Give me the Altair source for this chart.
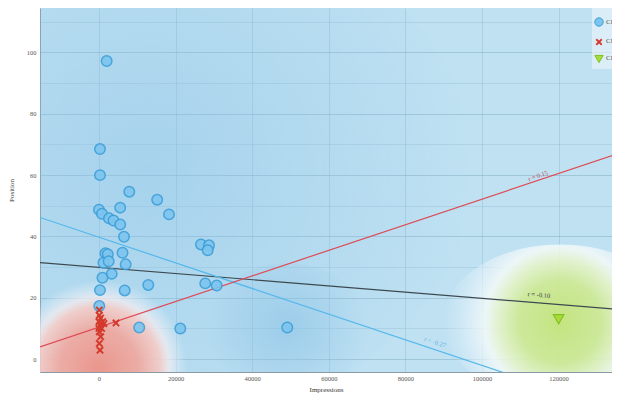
import altair as alt
import pandas as pd

# ---- data ----
c1_x = [2010, 260, 260, 7910, 15200, 0, 780, 5540, 2610, 3790, 5540, 18280, 6530,
        26630, 28720, 28380, 1700, 2300, 6140, 1170, 2530, 6970, 3320, 910, 12870,
        27750, 30730, 260, 6710, 80, 10500, 21230, 49160]
c1_y = [97.2, 68.5, 60.0, 54.6, 52.0, 48.7, 47.4, 49.4, 45.9, 45.2, 43.9, 47.2, 39.9,
        37.4, 37.1, 35.5, 34.5, 34.2, 34.7, 31.4, 31.9, 30.9, 27.8, 26.5, 24.2,
        24.7, 24.0, 22.5, 22.4, 17.3, 10.3, 10.0, 10.3]
c2_x = [80, 440, 0, 970, 260, 1300, 0, 700, 80, 440, 80, 260, 4440, 80]
c2_y = [14.3, 13.4, 12.2, 12.2, 11.1, 11.6, 10.0, 10.0, 8.9, 7.3, 5.1, 2.9, 11.8, 16.0]
c3_x = [120000]
c3_y = [13.0]

line_x = [-15400, 136000]
black_y = [31.5, 16.2]
blue_y = [46.2, -17.1]
red_y = [4.0, 67.2]

lbl_text = ["r = 0.15", "r = -0.10", "r = -0.27"]
lbl_x = [114620, 114880, 87730]
lbl_y = [59.7, 20.9, 5.5]
lbl_angle = [341, 5, 18]
lbl_color = ["#c0505a", "#3a4448", "#5ab6e6"]

legend_labels = ["Cluster 1", "Cluster 2", "Cluster 3"]

x_ticks = [0, 20000, 40000, 60000, 80000, 100000, 120000]
y_ticks = [0, 10, 20, 30, 40, 50, 60, 70, 80, 90, 100, 110]

FONT = "Liberation Serif"

xs = alt.Scale(domain=[-15400, 133940], nice=False, zero=False)
ys = alt.Scale(domain=[-4.2, 114.5], nice=False, zero=False)

xaxis = alt.Axis(values=x_ticks, format="d", title="Impressions", grid=True,
                 gridColor="#8fb6cc", gridOpacity=0.55, gridWidth=0.8,
                 ticks=False, labelPadding=3, labelFontSize=6.5, labelColor="#555",
                 labelFont=FONT, titleFont=FONT, titleFontSize=7, titleFontWeight="normal",
                 titleColor="#333", titlePadding=4, domainColor="#8a9aa4")
yaxis = alt.Axis(values=y_ticks, title="Position", grid=True,
                 gridColor={"condition": {"test": "datum.value % 20 == 0", "value": "#7fa8c0"},
                            "value": "#9cc2d6"},
                 gridOpacity=0.6, gridWidth=0.8,
                 labelExpr="datum.value % 20 == 0 ? datum.label : ''",
                 ticks=False, labelPadding=4, labelFontSize=6.5, labelColor="#555",
                 labelFont=FONT, titleFont=FONT, titleFontSize=7, titleFontWeight="normal",
                 titleColor="#333", titlePadding=12, domainColor="#8a9aa4")


def X(field="x"):
    return alt.X(f"{field}:Q", scale=xs, axis=xaxis)


def Y(field="y"):
    return alt.Y(f"{field}:Q", scale=ys, axis=yaxis)


def ellipse(ratio):
    return f"M -1 0 A 1 {ratio} 0 1 1 1 0 A 1 {ratio} 0 1 1 -1 0 Z"


def glow(cx, cy, size, ratio, stops):
    df = pd.DataFrame({"x": [cx], "y": [cy]})
    grad = {"gradient": "radial",
            "stops": [{"offset": o, "color": c} for o, c in stops]}
    return alt.Chart(df).mark_point(shape=ellipse(ratio), size=size, filled=True,
                                    fill=grad, strokeWidth=0, opacity=1,
                                    clip=True).encode(x=X(), y=Y())


glow_blue = glow(13000, 62, 420000, 0.8,
                 [(0, "rgba(135,192,230,0.45)"), (0.5, "rgba(140,195,230,0.25)"),
                  (1, "rgba(140,195,230,0)")])
glow_blue2 = glow(49160, 10.3, 26000, 0.8,
                  [(0, "rgba(140,195,230,0.6)"), (1, "rgba(140,195,230,0)")])
glow_red = glow(0, -2.9, 31000, 1.0,
                [(0, "rgba(234,150,140,1)"), (0.45, "rgba(238,170,162,0.95)"),
                 (0.7, "rgba(245,205,200,0.9)"), (0.8, "rgba(248,238,240,0.7)"),
                 (1, "rgba(235,245,252,0)")])
glow_green = glow(120370, 12.1, 55000, 0.66,
                  [(0, "rgba(196,228,128,1)"), (0.35, "rgba(205,233,150,0.95)"),
                   (0.52, "rgba(228,243,200,0.9)"), (0.64, "rgba(244,250,248,0.85)"),
                   (0.8, "rgba(235,245,251,0.5)"), (1, "rgba(220,238,248,0)")])

lines_df = pd.DataFrame({
    "x": line_x * 3,
    "y": black_y + blue_y + red_y,
    "s": ["black"] * 2 + ["blue"] * 2 + ["red"] * 2,
})
line_layers = []
for s, col in [("black", "#3c4a50"), ("blue", "#55b8ea"), ("red", "#de4b55")]:
    line_layers.append(
        alt.Chart(lines_df[lines_df.s == s]).mark_line(color=col, strokeWidth=1.2, clip=True)
        .encode(x=X(), y=Y())
    )

labels_df = pd.DataFrame({"x": lbl_x, "y": lbl_y, "t": lbl_text})
label_layers = []
for i in range(3):
    label_layers.append(
        alt.Chart(labels_df.iloc[[i]]).mark_text(fontSize=6.5, font=FONT, angle=lbl_angle[i],
                                                  color=lbl_color[i], clip=True)
        .encode(x=X(), y=Y(), text="t:N")
    )

c1 = alt.Chart(pd.DataFrame({"x": c1_x, "y": c1_y})).mark_point(
    shape="circle", size=110, filled=True, fill="#7cc5ef", stroke="#3d9fd9",
    strokeWidth=1.5, opacity=0.9, clip=True).encode(x=X(), y=Y())
c2 = alt.Chart(pd.DataFrame({"x": c2_x, "y": c2_y})).mark_point(
    shape="M -1 -1 L 1 1 M -1 1 L 1 -1", size=40, filled=False, stroke="#d43a2c",
    strokeWidth=2, opacity=1, clip=True).encode(x=X(), y=Y())
c3 = alt.Chart(pd.DataFrame({"x": c3_x, "y": c3_y})).mark_point(
    shape="triangle-down", size=110, filled=True, fill="#a8dc3c", stroke="#80c020",
    strokeWidth=1.2, opacity=1, clip=True).encode(x=X(), y=Y())

one = pd.DataFrame({"k": [0]})
leg_bg = alt.Chart(one).mark_rect(fill="#eef6fa", opacity=0.6, clip=True).encode(
    x=alt.value(552), x2=alt.value(590), y=alt.value(0), y2=alt.value(61))
leg_sym = [
    alt.Chart(one).mark_point(shape="circle", size=70, filled=True, fill="#7cc5ef",
                              stroke="#3d9fd9", strokeWidth=1, opacity=1, clip=True)
    .encode(x=alt.value(559), y=alt.value(14)),
    alt.Chart(one).mark_point(shape="M -1 -1 L 1 1 M -1 1 L 1 -1", size=30, filled=False,
                              stroke="#d43a2c", strokeWidth=1.8, opacity=1, clip=True)
    .encode(x=alt.value(559), y=alt.value(34)),
    alt.Chart(one).mark_point(shape="triangle-down", size=70, filled=True, fill="#a8dc3c",
                              stroke="#80c020", strokeWidth=1, opacity=1, clip=True)
    .encode(x=alt.value(559), y=alt.value(51)),
]
leg_txt = [
    alt.Chart(pd.DataFrame({"t": [legend_labels[i]]})).mark_text(
        align="left", baseline="middle", fontSize=7, font=FONT, color="#555", clip=True)
    .encode(x=alt.value(566), y=alt.value(yy), text="t:N")
    for i, yy in enumerate([14, 33, 50])
]

chart = alt.layer(
    glow_blue, glow_blue2, glow_red, glow_green,
    *line_layers, *label_layers, c1, c2, c3,
    leg_bg, *leg_sym, *leg_txt,
).properties(
    width=572, height=364,
    autosize=alt.AutoSizeParams(type="none"),
    padding={"left": 32, "top": 0, "right": 0, "bottom": 21},
    background="white",
).configure_view(fill="#bfe1f2", stroke=None)

chart.save("out.html", embed_options={"renderer": "svg", "actions": False})
